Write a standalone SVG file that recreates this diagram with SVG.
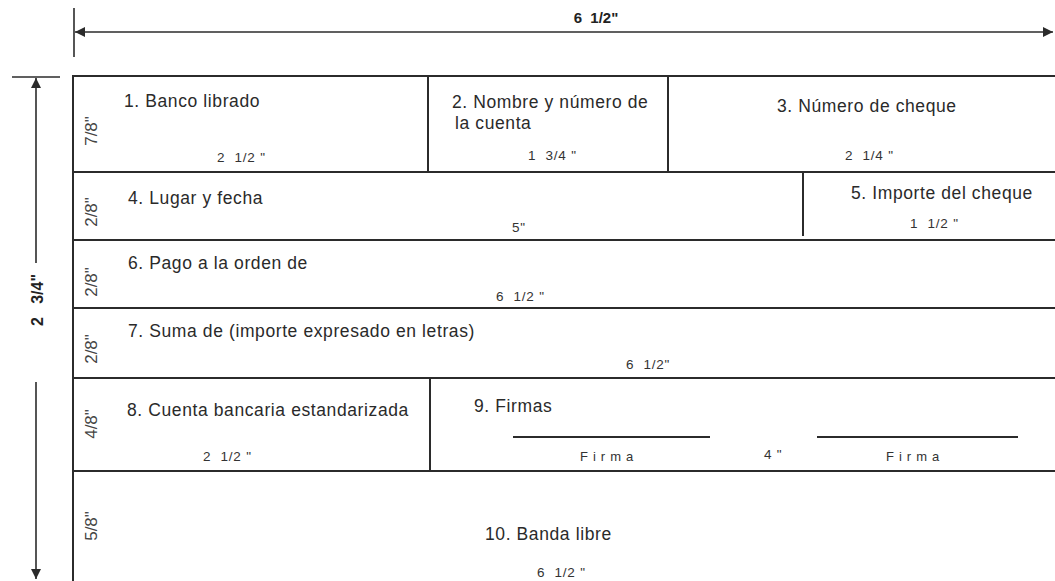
<svg xmlns="http://www.w3.org/2000/svg" width="1055" height="581" viewBox="0 0 1055 581">
<style>
.ln{stroke:#2b2b2b;stroke-width:2;fill:none}
.dim{stroke:#2b2b2b;stroke-width:1.6;fill:none}
.t{font-family:"Liberation Sans",Arial,sans-serif;font-size:17.5px;letter-spacing:0.6px;fill:#2a2a2a}
.s{font-family:"Liberation Sans",Arial,sans-serif;font-size:13.5px;letter-spacing:0.8px;fill:#333;white-space:pre}
.v{font-family:"Liberation Sans",Arial,sans-serif;font-size:17px;fill:#444}
.b{font-family:"Liberation Sans",Arial,sans-serif;font-size:15px;font-weight:bold;fill:#222;white-space:pre}
.bl{font-family:"Liberation Sans",Arial,sans-serif;font-size:16px;font-weight:bold;fill:#222;white-space:pre}
.f{font-family:"Liberation Sans",Arial,sans-serif;font-size:13px;fill:#333;letter-spacing:5px}
</style>
<defs>
<marker id="ah" viewBox="0 0 10 10" refX="10" refY="5" markerWidth="16" markerHeight="10" markerUnits="userSpaceOnUse" orient="auto-start-reverse">
<path d="M0,0 L10,5 L0,10 Z" fill="#2b2b2b"/>
</marker>
</defs>
<rect width="1055" height="581" fill="#fff"/>
<g id="connectors">
<line class="dim" x1="74" y1="8" x2="74" y2="57"/>
<line class="dim" x1="75" y1="32" x2="1053" y2="32" marker-start="url(#ah)" marker-end="url(#ah)"/>
<line class="dim" x1="12" y1="77" x2="60" y2="77"/>
<line class="dim" x1="36" y1="263" x2="36" y2="78" marker-end="url(#ah)"/>
<line class="dim" x1="36" y1="382" x2="36" y2="579" marker-end="url(#ah)"/>
</g>
<g id="dim-labels">
<text class="b" x="596" y="23" text-anchor="middle">6  1/2"</text>
<text class="bl" transform="translate(43,300) rotate(-90)" text-anchor="middle">2   3/4"</text>
</g>
<g id="frame">
<line class="ln" x1="73" y1="76" x2="73" y2="581"/>
<line class="ln" x1="72" y1="76" x2="1055" y2="76"/>
<line class="ln" x1="72" y1="172" x2="1055" y2="172"/>
<line class="ln" x1="72" y1="240" x2="1055" y2="240"/>
<line class="ln" x1="72" y1="308" x2="1055" y2="308"/>
<line class="ln" x1="72" y1="378" x2="1055" y2="378"/>
<line class="ln" x1="72" y1="471" x2="1055" y2="471"/>
</g>
<g id="row-heights">
<text class="v" transform="translate(97,131) rotate(-90)" text-anchor="middle">7/8"</text>
<text class="v" transform="translate(97,212) rotate(-90)" text-anchor="middle">2/8"</text>
<text class="v" transform="translate(97,282) rotate(-90)" text-anchor="middle">2/8"</text>
<text class="v" transform="translate(97,349) rotate(-90)" text-anchor="middle">2/8"</text>
<text class="v" transform="translate(97,424) rotate(-90)" text-anchor="middle">4/8"</text>
<text class="v" transform="translate(97,526) rotate(-90)" text-anchor="middle">5/8"</text>
</g>
<g id="n1">
<text class="t" x="124" y="107">1. Banco librado</text>
<text class="s" x="217" y="162">2  1/2 "</text>
</g>
<g id="n2">
<line class="ln" x1="428" y1="76" x2="428" y2="172"/>
<text class="t" x="452" y="108">2. Nombre y número de</text>
<text class="t" x="455" y="129">la cuenta</text>
<text class="s" x="528" y="160">1  3/4 "</text>
</g>
<g id="n3">
<line class="ln" x1="668" y1="76" x2="668" y2="172"/>
<text class="t" x="777" y="112">3. Número de cheque</text>
<text class="s" x="845" y="160">2  1/4 "</text>
</g>
<g id="n4">
<text class="t" x="128" y="204">4. Lugar y fecha</text>
<text class="s" x="512" y="232">5"</text>
</g>
<g id="n5">
<line class="ln" x1="803" y1="172" x2="803" y2="236"/>
<text class="t" x="851" y="199">5. Importe del cheque</text>
<text class="s" x="910" y="228">1  1/2 "</text>
</g>
<g id="n6">
<text class="t" x="128" y="269">6. Pago a la orden de</text>
<text class="s" x="496" y="301">6  1/2 "</text>
</g>
<g id="n7">
<text class="t" x="128" y="337">7. Suma de (importe expresado en letras)</text>
<text class="s" x="626" y="369">6  1/2"</text>
</g>
<g id="n8">
<text class="t" x="127" y="416">8. Cuenta bancaria estandarizada</text>
<text class="s" x="203" y="461">2  1/2 "</text>
</g>
<g id="n9">
<line class="ln" x1="430" y1="378" x2="430" y2="471"/>
<text class="t" x="474" y="412">9. Firmas</text>
<line class="ln" x1="513" y1="437" x2="710" y2="437"/>
<line class="ln" x1="817" y1="437" x2="1018" y2="437"/>
<text class="f" x="580" y="461">Firma</text>
<text class="s" x="764" y="459">4 "</text>
<text class="f" x="886" y="461">Firma</text>
</g>
<g id="n10">
<text class="t" x="485" y="540">10. Banda libre</text>
<text class="s" x="537" y="577">6  1/2 "</text>
</g>
</svg>
